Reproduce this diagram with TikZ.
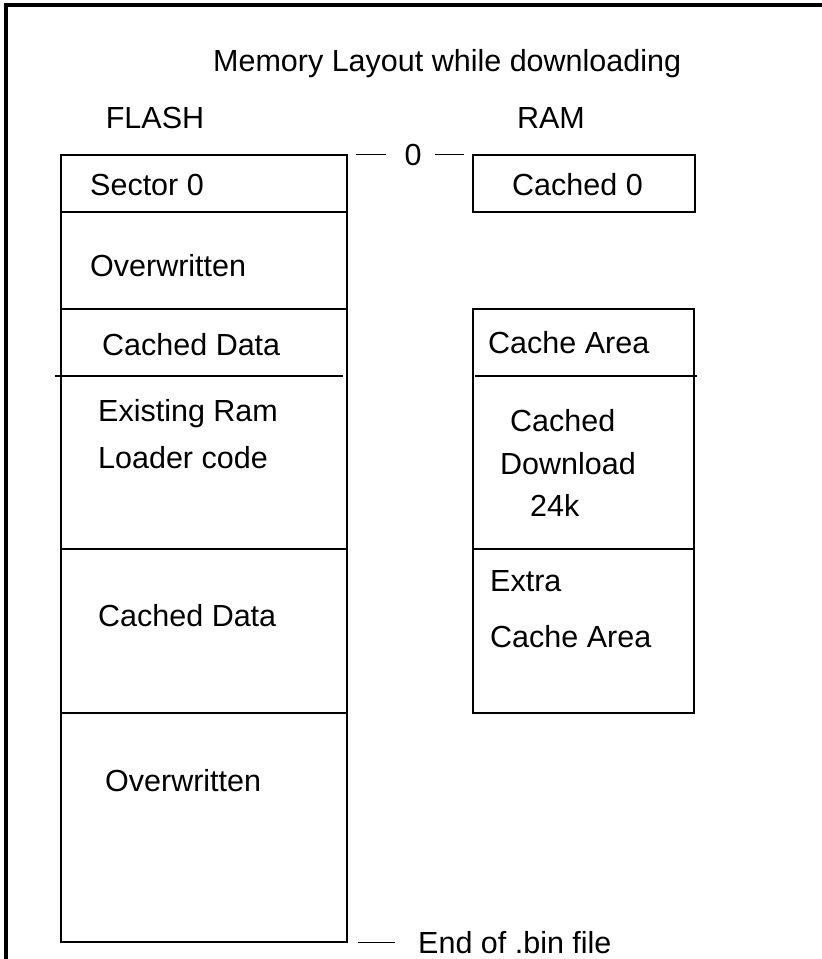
\documentclass[tikz,border=0pt]{standalone}
\usepackage{fontspec}
\setmainfont{Liberation Sans}
\begin{document}
\begin{tikzpicture}[x=1pt,y=-1pt,
	lbl/.style={anchor=base west,inner sep=0pt,font=\fontsize{30.5}{37}\selectfont},
	head/.style={anchor=base,inner sep=0pt,font=\fontsize{30.5}{37}\selectfont},
	wall/.style={line width=1.2pt}]
	\useasboundingbox (0,0) rectangle (822,959);
	\draw[line width=3.5pt] (822,5) -- (6,5) -- (6,959);		% frame
	
	\node[lbl] (title) at (213,71) {Memory Layout while downloading};
	\node[head] (flash) at (155,128) {FLASH};
	\node[head] (ram) at (551,128) {RAM};
	
	% flash map
	\draw[wall] (61,155) rectangle (347,942);
	\draw[wall] (61,212) -- (347,212);
	\draw[wall] (61,309) -- (347,309);
	\draw[wall] (55,376) -- (343,376);
	\draw[wall] (61,549) -- (347,549);
	\draw[wall] (61,713) -- (347,713);
	
	\node[lbl] (sector) at (90,195) {Sector 0};
	\node[lbl] (over1) at (90,276) {Overwritten};
	\node[lbl] (cdata1) at (102,355) {Cached Data};
	\node[lbl] (exist) at (98,421) {Existing Ram};
	\node[lbl] (loader) at (98,468) {Loader code};
	\node[lbl] (cdata2) at (98,626) {Cached Data};
	\node[lbl] (over2) at (105,791) {Overwritten};
	
	% ram map
	\draw[wall] (473,155) rectangle (695,212);
	\draw[wall] (473,309) rectangle (694,713);
	\draw[wall] (475,376) -- (697,376);
	\draw[wall] (473,549) -- (694,549);
	
	\node[lbl] (cached0) at (512,195) {Cached 0};
	\node[lbl] (carea1) at (488,353) {Cache Area};
	\node[lbl] (cached) at (510,431) {Cached};
	\node[lbl] (download) at (500,474) {Download};
	\node[lbl] (size) at (530,516) {24k};
	\node[lbl] (extra) at (490,591) {Extra};
	\node[lbl] (carea2) at (490,647) {Cache Area};
	
	% address marks
	\node[head] (zero) at (413,165) {0};
	\draw[wall] ([xshift=-48pt]zero.west) -- ([xshift=-18pt]zero.west);
	\draw[wall] ([xshift=13pt]zero.east) -- ([xshift=42pt]zero.east);
	
	\node[lbl] (endbin) at (418,953) {End of .bin file};
	\draw[wall] ([xshift=-60pt]endbin.west) -- ([xshift=-23pt]endbin.west);
\end{tikzpicture}
\end{document}
